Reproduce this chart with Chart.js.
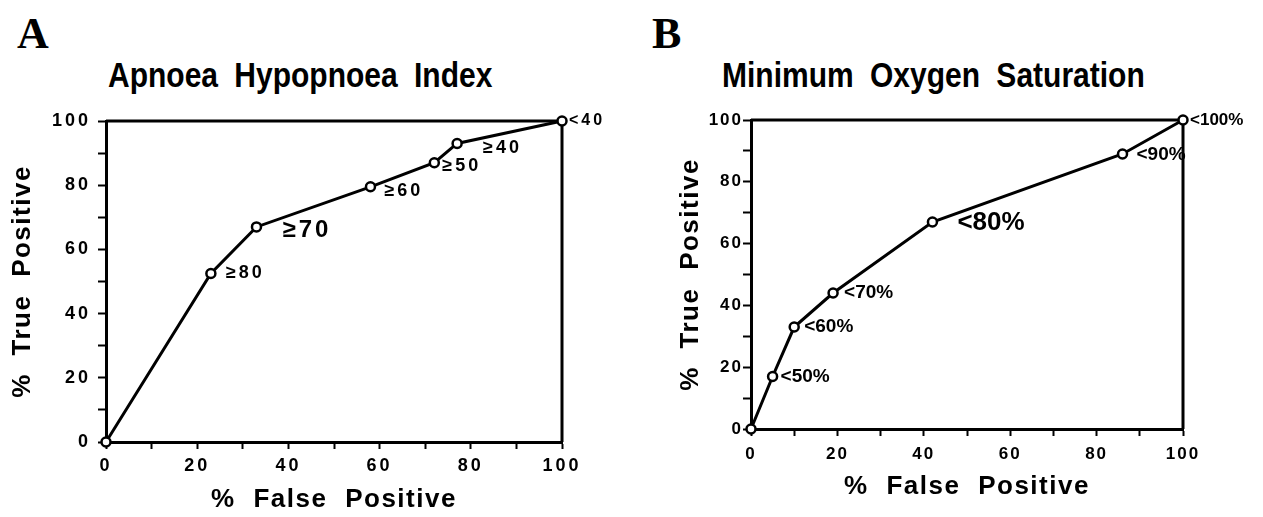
<!DOCTYPE html>
<html>
<head>
<meta charset="utf-8">
<script src="https://cdn.jsdelivr.net/npm/chart.js@4.4.0/dist/chart.umd.min.js"></script>
<style>
  body { margin: 0; background: #fff; width: 1263px; height: 517px; position: relative; overflow: hidden;
         font-family: "Liberation Sans", Arial, sans-serif; color: #000; }
  .letter { position: absolute; font-family: "Liberation Serif", serif; font-weight: bold; font-size: 44px; line-height: 1; }
  .title { position: absolute; font-weight: bold; font-size: 30px; word-spacing: 8px; white-space: nowrap; line-height: 1;
           transform: scaleY(1.18); transform-origin: 0 0; }
  canvas { position: absolute; top: 0; }
</style>
</head>
<body>
<div class="letter" style="left:17px;top:12px">A</div>
<div class="title" style="left:108px;top:57px">Apnoea Hypopnoea Index</div>
<div class="letter" style="left:652px;top:12px">B</div>
<div class="title" style="left:722px;top:57px">Minimum Oxygen Saturation</div>
<canvas id="chartA" width="625" height="517" style="left:0"></canvas>
<canvas id="chartB" width="623" height="517" style="left:640px"></canvas>
<script>
// Panel A: apnoea hypopnoea index cut-offs
const aihFalsePos = [0, 23, 33, 58, 72, 77, 100];
const aihTruePos = [0, 52.5, 67, 79.5, 87, 93, 100];
const aihLabels = ['', '≥80', '≥70', '≥60', '≥50', '≥40', '<40'];

// Panel B: minimum oxygen saturation cut-offs
const satFalsePos = [0, 5, 10, 19, 42, 86, 100];
const satTruePos = [0, 17, 33, 44, 67, 89, 100];
const satLabels = ['', '<50%', '<60%', '<70%', '<80%', '<90%', '<100%'];

const FONT = '"Liberation Sans", Arial, sans-serif';

// wide gaps in the axis titles
const spacing = {
  id: 'spacing',
  beforeDraw(chart, args, opts) {
    chart.ctx.letterSpacing = opts.letter || '0px';
    chart.ctx.wordSpacing = opts.word || '0px';
  }
};

// box round the plot
const frame = {
  id: 'frame',
  beforeDatasetsDraw(chart) {
    const {ctx, chartArea: a} = chart;
    ctx.save();
    ctx.strokeStyle = '#000';
    ctx.lineWidth = 3;
    ctx.beginPath();
    ctx.moveTo(a.left, a.top);
    ctx.lineTo(a.right, a.top);
    ctx.lineTo(a.right, a.bottom);
    ctx.stroke();
    ctx.restore();
  }
};

// cut-off labels next to each point; tick labels are drawn after this (ticks.z = 1)
const pointLabels = {
  id: 'pointLabels',
  afterDatasetsDraw(chart, args, opts) {
    const ctx = chart.ctx;
    const meta = chart.getDatasetMeta(0);
    ctx.save();
    ctx.fillStyle = '#000';
    ctx.textAlign = 'left';
    ctx.textBaseline = 'middle';
    ctx.letterSpacing = opts.letter || '0px';
    opts.texts.forEach((t, i) => {
      if (!t) return;
      const p = meta.data[i];
      const o = opts.offsets[i];
      ctx.font = 'bold ' + o[2] + 'px ' + FONT;
      ctx.fillText(t, p.x + o[0], p.y + o[1]);
    });
    ctx.restore();
    ctx.letterSpacing = opts.tickLetter || '0px';
  }
};

function makeChart(id, xs, ys, labels, s) {
  const pts = xs.map((x, i) => ({x: x, y: ys[i]}));
  const tickFont = {family: FONT, size: s.tickSize, weight: 'bold'};
  const titleFont = {family: FONT, size: 26, weight: 'bold'};
  return new Chart(document.getElementById(id), {
    type: 'scatter',
    data: {
      datasets: [{
        data: pts,
        showLine: true,
        borderColor: '#000',
        borderWidth: 3,
        tension: 0,
        pointRadius: 4.5,
        pointBorderWidth: 2.5,
        pointBackgroundColor: '#fff',
        pointBorderColor: '#000',
        clip: false
      }]
    },
    options: {
      responsive: false,
      animation: false,
      layout: {padding: s.padding},
      plugins: {
        legend: {display: false},
        tooltip: {enabled: false},
        spacing: {letter: '1.5px', word: '9px'},
        pointLabels: {texts: labels, offsets: s.offsets, letter: s.labelLetter, tickLetter: s.tickLetter}
      },
      scales: {
        x: {
          type: 'linear', min: 0, max: 100,
          ticks: {
            z: 1, stepSize: 10, autoSkip: false, maxRotation: 0, color: '#000', font: tickFont, padding: s.xTickPad,
            callback: v => (v % 20 === 0 ? v : '')
          },
          grid: {drawOnChartArea: false, tickLength: 7, tickWidth: 2, tickColor: '#000'},
          border: {color: '#000', width: 3},
          title: {display: true, text: '% False Positive', color: '#000', font: titleFont,
                  padding: {top: 0, bottom: s.xTitlePad}},
          afterFit: sc => { sc.height = s.xHeight; }
        },
        y: {
          type: 'linear', min: 0, max: 100,
          ticks: {
            z: 1, stepSize: 10, autoSkip: false, color: '#000', font: tickFont, padding: s.yTickPad,
            callback: v => (v % 20 === 0 ? v : '')
          },
          grid: {drawOnChartArea: false, tickLength: 8, tickWidth: 2, tickColor: '#000'},
          border: {color: '#000', width: 3},
          title: {display: true, text: '% True Positive', color: '#000', font: titleFont,
                  padding: {top: s.yTitlePad, bottom: 0}},
          afterFit: sc => { sc.width = s.yWidth; }
        }
      }
    },
    plugins: [spacing, frame, pointLabels]
  });
}

makeChart('chartA', aihFalsePos, aihTruePos, aihLabels, {
  padding: {top: 121, right: 63, left: 0, bottom: 0},
  yWidth: 106, xHeight: 75,
  tickSize: 18, tickLetter: '3px', labelLetter: '3px',
  xTickPad: 6, yTickPad: 7, xTitlePad: 2, yTitlePad: 7,
  offsets: [[0, 0, 17], [15, 0, 18], [26, 3, 24], [14, 4, 18], [8, 3, 18], [26, 5, 18], [7, 0, 16]]
});

makeChart('chartB', satFalsePos, satTruePos, satLabels, {
  padding: {top: 120, right: 80, left: 0, bottom: 0},
  yWidth: 111, xHeight: 88,
  tickSize: 17, tickLetter: '2px', labelLetter: '0px',
  xTickPad: 8, yTickPad: 0, xTitlePad: 15, yTitlePad: 35,
  offsets: [[0, 0, 17], [8, 0, 19], [10, 0, 19], [11, 0, 19], [25, 1, 26], [14, 1, 19], [7, 0, 17]]
});
</script>
</body>
</html>
